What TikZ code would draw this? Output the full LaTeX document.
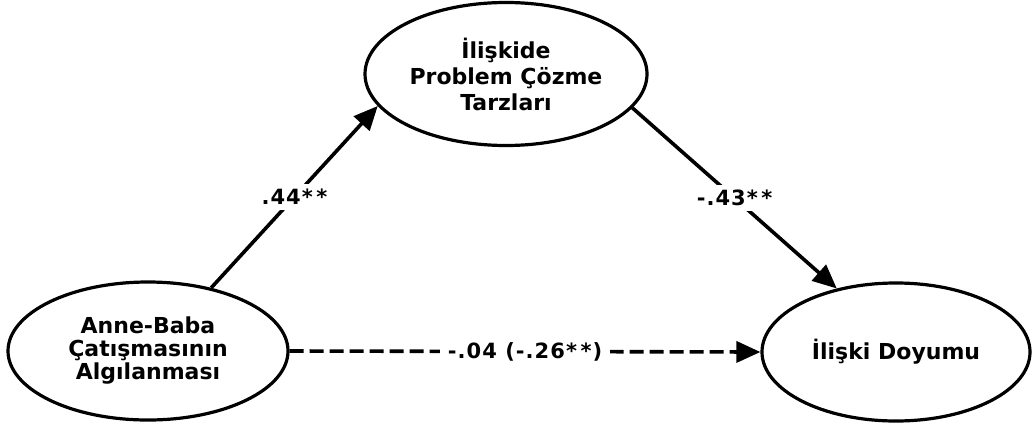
\documentclass[tikz,border=0pt]{standalone}
\usepackage{fontspec}
\setmainfont{DejaVu Sans}
\usetikzlibrary{shapes.geometric,arrows.meta}
\begin{document}
\begin{tikzpicture}[x=1pt,y=-1pt,
  var/.style={draw,ellipse,line width=3.2pt,inner sep=0pt,align=center,
    font=\bfseries\fontsize{22}{23}\selectfont},
  path/.style={line width=3.6pt,-{Triangle[length=24pt,width=21pt]}},
  lbl/.style={fill=white,inner sep=5pt,font=\bfseries\fontsize{21}{22}\selectfont\addfontfeature{LetterSpace=5}}]
\useasboundingbox (0,0) rectangle (1035,423);
\node[var,minimum width=282pt,minimum height=143pt] (T) at (506,74)
  {İlişkide\\[3pt]Problem Çözme\\[3pt]Tarzları};
\node[var,minimum width=280pt,minimum height=138pt] (L) at (148,351)
  {Anne-Baba\\Çatışmasının\\Algılanması};
\node[var,minimum width=268pt,minimum height=138pt] (R) at (896,352)
  {İlişki Doyumu};
\draw[path] (L.45) -- node[lbl] {.44*\,*} (T.194);
\draw[path] (T.345) -- node[lbl] {-.43*\,*} (R.133);
\draw[path,dash pattern=on 14pt off 6pt] (L.east) -- node[lbl,inner ysep=3pt,inner xsep=8pt] {-.04 (-.26*\,*)} (R.west);
\end{tikzpicture}
\end{document}
